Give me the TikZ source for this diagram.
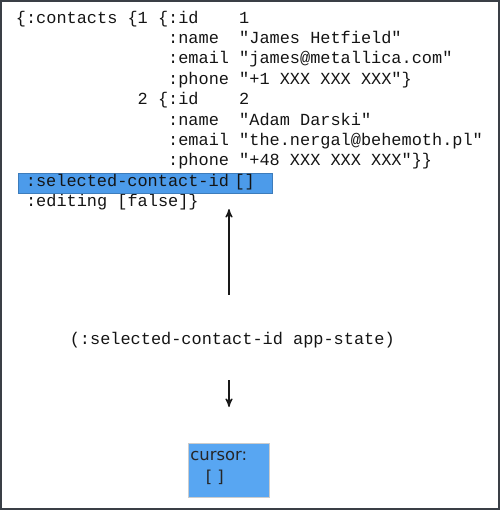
\documentclass[tikz,border=0pt]{standalone}
\usepackage{fontspec}
\setmonofont{Liberation Mono}
\newfontfamily\cursorfont{DejaVu Sans}
\usepackage{xcolor}
\usepackage{tikz}
\usetikzlibrary{arrows,positioning}

\definecolor{stateblue}{RGB}{76,155,234}
\definecolor{cursorblue}{RGB}{88,166,242}
\definecolor{framegray}{RGB}{58,63,70}

\frenchspacing

\begin{document}
\begin{tikzpicture}[x=0.5pt,y=-0.5pt,>=stealth',
    code/.style={anchor=base west,inner sep=0pt,text depth=1pt,
        font=\ttfamily\fontsize{8.46}{10}\selectfont,text=black!92},
    hilite/.style={code,fill=stateblue,draw=stateblue!80!black,line width=0.3pt,
        align=left,text width=119.35pt,inner xsep=3.8pt,
        text height=6.6pt,text depth=3.4pt},
    cursorbox/.style={anchor=north west,fill=cursorblue,draw=black!20,
        line width=0.5pt,minimum width=40.5pt,minimum height=27pt},
    cursortext/.style={anchor=base west,inner sep=0pt,
        font=\cursorfont\fontsize{8.2}{10}\selectfont,text=black!85},
    flow/.style={->,line width=0.6pt,black!90}]

\useasboundingbox (0,0) rectangle (500,510);
\draw[framegray,line width=1pt] (1,1) rectangle (499,509);

% the app state
\foreach \n/\col/\txt in {
    1/0/{\{:contacts \{1 \{:id~~~~1},
    2/15/{:name~~"James Hetfield"},
    3/15/{:email "james@metallica.com"},
    4/15/{:phone "+1 XXX XXX XXX"\}},
    5/12/{2 \{:id~~~~2},
    6/15/{:name~~"Adam Darski"},
    7/15/{:email "the.nergal@behemoth.pl"},
    8/15/{:phone "+48 XXX XXX XXX"\}\}},
    10/1/{:editing [false]\}}}
  \node[code] (row\n) at ({15.5+\col*10.15},{23+(\n-1)*20.4}) {\txt};

\node[hilite] (selected) at (18,186.2) {:selected-contact-id~[]};

% the query and the cursor
\node[code,text height=6pt,text depth=2pt] (query) at (69.4,344)
    {(:selected-contact-id app-state)};

\node[cursorbox] (cursor) at (188,443) {};
\node[cursortext] (cursorname) at ([shift={(2,17)}]cursor.north west) {cursor:};
\node[cursortext] (cursorval) at ([shift={(17.5,39.7)}]cursor.north west) {[ ]};

\draw[flow,shorten <=18.5pt] (query.north -| cursor.north) -- (row10.south -| cursor.north);
\draw[flow,shorten <=16pt,shorten >=18pt] (query.south -| cursor.north) -- (cursor.north);

\end{tikzpicture}
\end{document}
